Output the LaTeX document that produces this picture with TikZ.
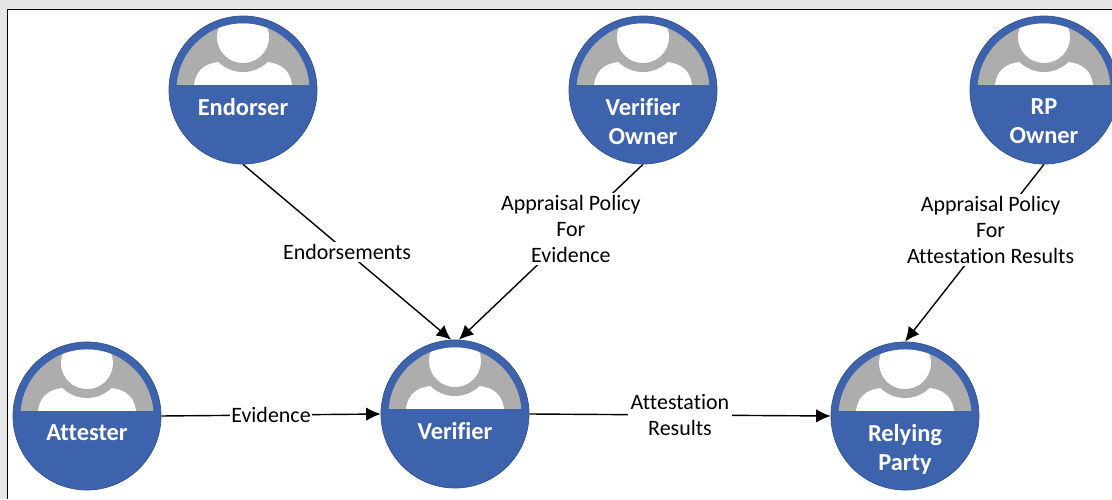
\documentclass[tikz,border=0pt]{standalone}
\usepackage{fontspec}
\setmainfont[Ligatures=NoCommon]{Carlito}
\usetikzlibrary{arrows.meta}

\definecolor{actorblue}{HTML}{3E63AD}
\definecolor{actoredge}{HTML}{2F528F}
\definecolor{icongray}{HTML}{ADADAD}
\definecolor{pagegray}{HTML}{E6E6E6}

\tikzset{
    actor/.style={draw=actoredge, fill=actorblue, shape=circle, minimum size=2.96cm, inner sep=0pt},
    actorname/.style={anchor=north, align=center, text=white, inner sep=0pt, font=\fontsize{13.9}{16.4}\selectfont\bfseries},
    flowlabel/.style={fill=white, align=center, inner sep=1.5pt, font=\fontsize{12.5}{14.7}\selectfont},
    flow/.style={draw, line width=0.8pt, -{Latex[length=0.29cm,width=0.27cm]}}
}

% circle with the person icon and the name under it
\newcommand{\actornode}[3]{
    \node[actor] (#1) at (#2) {};
    \begin{scope}[shift={(#1.center)}]
        \clip (-1.5,0.1) rectangle (1.5,1.5);
        \fill[icongray] (0,0) circle (1.33);
        \clip (0,0) circle (1.33);
        \fill[white] (-0.98,0.1) .. controls (-0.95,0.36) and (-0.8,0.52) .. (-0.5,0.56) -- (0.5,0.56) .. controls (0.8,0.52) and (0.95,0.36) .. (0.98,0.1) -- cycle;
        \fill[icongray] (0,1.06) circle (0.7);
        \fill[white] (0,1.06) circle (0.52);
    \end{scope}
    \node[actorname] (#1name) at ([yshift=-0.16cm]#1.center) {#3};
}

\begin{document}
\begin{tikzpicture}
    \useasboundingbox (0,0) rectangle (22.24,9.98);
    \fill[pagegray] (0,0) rectangle (22.24,9.98);
    \fill[white] (0.15,0) rectangle (22.24,9.79);
    \draw[line width=1.1pt] (0.15,0) -- (0.15,9.79) -- (22.24,9.79);

    \actornode{endorser}{4.86,8.18}{Endorser}
    \actornode{verifierowner}{12.86,8.18}{Verifier\\Owner}
    \actornode{rpowner}{20.88,8.18}{RP\\Owner}
    \actornode{attester}{1.74,1.66}{Attester}
    \actornode{verifier}{9.1,1.70}{Verifier}
    \actornode{relyingparty}{18.1,1.66}{Relying\\Party}

    \draw[flow] (endorser.south) -- node[flowlabel, midway] (endorsements) {Endorsements} (verifier.93);
    \draw[flow] (verifierowner.south) -- node[flowlabel, pos=0.37, xshift=-0.08cm] (policyevidence) {Appraisal Policy\\For\\Evidence} (verifier.87);
    \draw[flow] (rpowner.south) -- node[flowlabel, pos=0.37, xshift=-0.04cm] (policyresults) {Appraisal Policy\\For\\Attestation Results} (relyingparty.north);
    \draw[flow] (attester.east) -- node[flowlabel, midway, inner sep=0.5pt] (evidence) {Evidence} (verifier.west);
    \draw[flow] (verifier.east) -- node[flowlabel, midway] (results) {Attestation\\Results} (relyingparty.west);
\end{tikzpicture}
\end{document}
